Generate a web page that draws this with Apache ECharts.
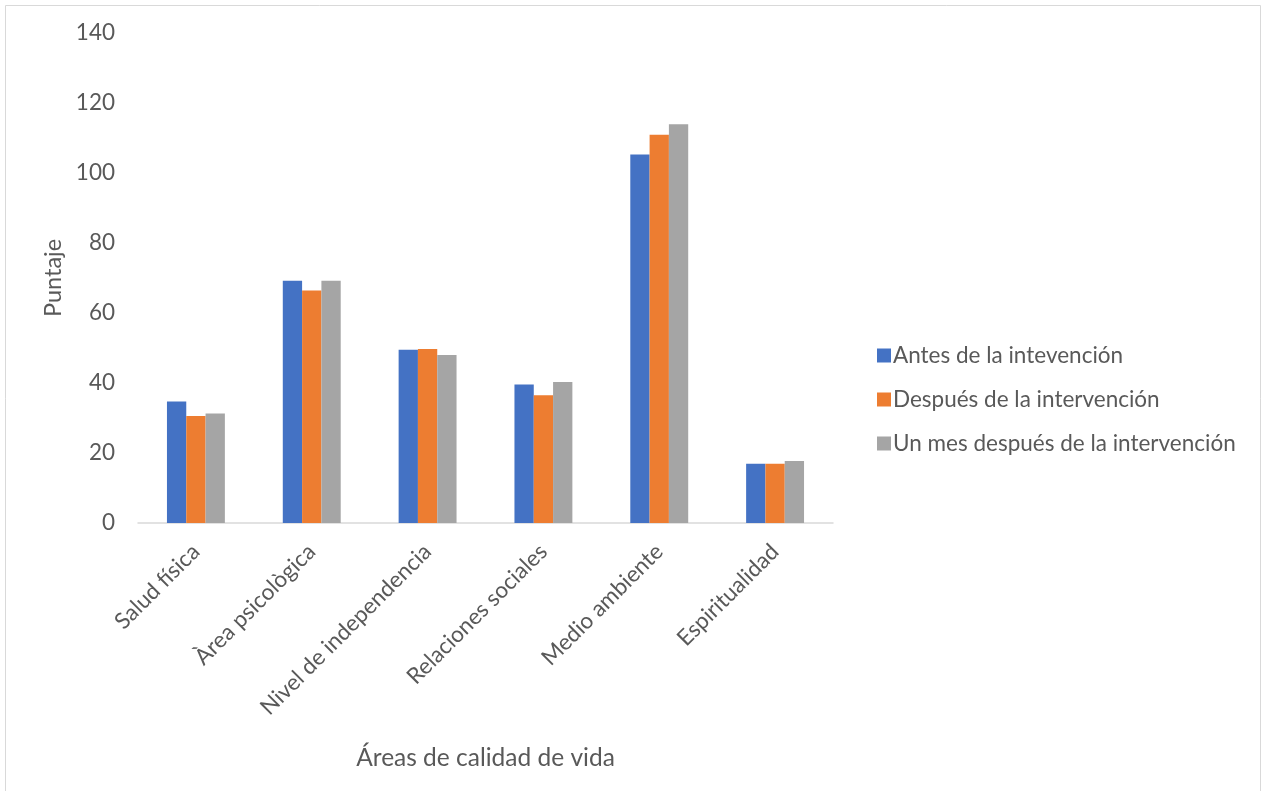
<!DOCTYPE html>
<html>
<head>
<meta charset="utf-8">
<script src="https://cdn.jsdelivr.net/npm/echarts@6/dist/echarts.min.js"></script>
<style>
  html, body { margin: 0; padding: 0; background: #fff; }
  #main { width: 1264px; height: 791px; }
</style>
</head>
<body>
<div id="main"></div>
<script>
// datos
var categorias = ["Salud física", "Àrea psicològica", "Nivel de independencia", "Relaciones sociales", "Medio ambiente", "Espiritualidad"];
var antes = [34.7, 69.2, 49.5, 39.6, 105.3, 16.9];
var despues = [30.6, 66.4, 49.7, 36.5, 110.9, 16.9];
var unMes = [31.3, 69.2, 48.0, 40.3, 113.9, 17.7];
var nombresSeries = ["Antes de la intevención", "Después de la intervención", "Un mes después de la intervención"];

var fuente = "Lato";
var gris = "#595959";

var main = echarts.init(document.getElementById("main"));

var option = {
  backgroundColor: "#fff",
  textStyle: { fontFamily: fuente },
  animation: false,
  graphic: [
    {
      type: "rect",
      shape: { x: 5.5, y: 5.5, width: 1255, height: 800 },
      style: { fill: "none", stroke: "#d9d9d9", lineWidth: 1 },
      silent: true,
    },
  ],
  legend: {
    orient: "vertical",
    left: 872,
    top: 339,
    itemWidth: 14,
    itemHeight: 14,
    itemGap: 21,
    icon: "rect",
    data: nombresSeries,
    textStyle: { color: gris, fontSize: 22.5, fontFamily: fuente, padding: [0, 0, 0, -3] },
  },
  grid: {
    left: 138,
    right: 431,
    top: 33,
    bottom: 268,
    containLabel: false,
  },
  xAxis: {
    type: "category",
    data: categorias,
    name: "Áreas de calidad de vida",
    nameLocation: "middle",
    nameGap: 223,
    nameTextStyle: { color: gris, fontSize: 24.5, fontFamily: fuente },
    axisLine: { lineStyle: { color: "#d9d9d9", width: 1.5 } },
    axisTick: { show: false },
    axisLabel: {
      rotate: 45,
      interval: 0,
      margin: 25,
      color: gris,
      fontSize: 22.5,
      fontFamily: fuente,
    },
  },
  yAxis: {
    type: "value",
    min: 0,
    max: 140,
    interval: 20,
    name: "Puntaje",
    nameLocation: "middle",
    nameGap: 70,
    nameTextStyle: { color: gris, fontSize: 23.5, fontFamily: fuente },
    axisLine: { show: false },
    axisTick: { show: false },
    splitLine: { show: false },
    axisLabel: { color: gris, fontSize: 22.5, fontFamily: fuente, margin: 23 },
  },
  series: [
    {
      name: nombresSeries[0],
      type: "bar",
      color: "#4472c4",
      barGap: "0%",
      barCategoryGap: "50%",
      data: antes,
    },
    {
      name: nombresSeries[1],
      type: "bar",
      color: "#ed7d31",
      barGap: "0%",
      barCategoryGap: "50%",
      data: despues,
    },
    {
      name: nombresSeries[2],
      type: "bar",
      color: "#a5a5a5",
      barGap: "0%",
      barCategoryGap: "50%",
      data: unMes,
    },
  ],
};

main.setOption(option);
</script>
</body>
</html>
